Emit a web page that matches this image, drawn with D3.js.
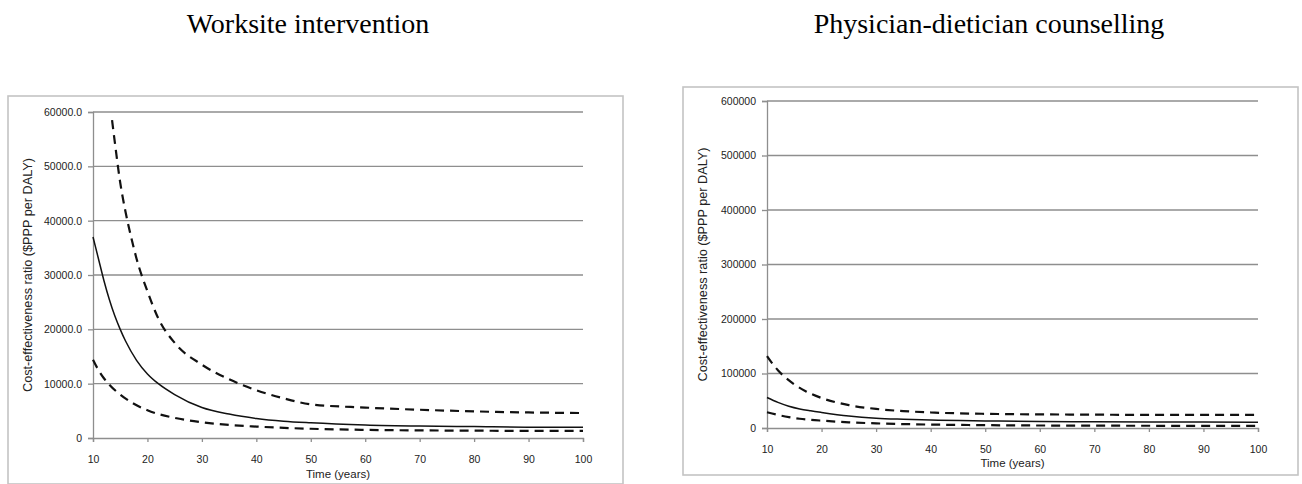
<!DOCTYPE html>
<html>
<head>
<meta charset="utf-8">
<title></title>
<style>
  body { margin: 0; background: #fff; }
  svg text { font-family: "Liberation Sans", Arial, sans-serif; fill: #222; }
  svg .title { font-family: "Liberation Serif", "Times New Roman", serif; font-size: 28px; fill: #000; }
  svg .frame { fill: none; stroke: #c4c4c4; stroke-width: 1.6; }
  svg .grid line { stroke: #8e8e8e; stroke-width: 1.3; }
  svg .axis path, svg .axis line { stroke: #8e8e8e; stroke-width: 1.3; }
  svg .axis text { font-size: 10.5px; fill: #222; }
  svg .mid { fill: none; stroke: #111; stroke-width: 1.5; }
  svg .bound { fill: none; stroke: #111; stroke-width: 2.2; stroke-dasharray: 9 6; }
</style>
</head>
<body>
<svg class="drawing"></svg>
<script src="https://cdn.jsdelivr.net/npm/d3@7"></script>
<script>
var w = 1302, h = 484;

var titles = ["Worksite intervention", "Physician-dietician counselling"];
var yTitle = "Cost-effectiveness ratio ($PPP per DALY)";
var xTitle = "Time (years)";
var xTicks = [10, 20, 30, 40, 50, 60, 70, 80, 90, 100];

// worksite (axis labelled 0 .. 60000.0)
var wsTicks = [0, 10000, 20000, 30000, 40000, 50000, 60000];
var wsMid = [[10, 37000], [11, 33000], [12, 29000], [13, 25500], [14, 22500], [15, 20000], [16, 17800],
    [18, 14300], [20, 11800], [22, 10000], [25, 8000], [30, 5600], [35, 4400], [40, 3600], [45, 3100],
    [50, 2800], [60, 2400], [70, 2200], [80, 2100], [90, 2000], [100, 2000]];
var wsHigh = [[13.5, 58500], [14, 54500], [15, 47000], [16, 41500], [17, 37000], [18, 33000], [20, 27000],
    [22, 22000], [25, 17500], [30, 13500], [35, 10800], [40, 8800], [45, 7300], [50, 6200], [60, 5600],
    [70, 5200], [80, 4900], [90, 4700], [100, 4600]];
var wsLow = [[10, 14400], [11, 12500], [12, 11000], [13, 9800], [15, 8000], [17, 6600], [20, 5100],
    [25, 3700], [30, 2900], [35, 2400], [40, 2100], [50, 1700], [60, 1500], [70, 1400], [80, 1350],
    [90, 1300], [100, 1300]];

// physician-dietician (axis labelled 0 .. 600000)
var pdTicks = [0, 100000, 200000, 300000, 400000, 500000, 600000];
var pdMid = [[10, 56000], [12, 47000], [14, 40000], [16, 35000], [18, 31500], [20, 28500], [25, 22000],
    [30, 18000], [35, 16000], [40, 14500], [50, 13000], [60, 12000], [70, 11500], [80, 11000],
    [90, 10800], [100, 10500]];
var pdHigh = [[10, 132000], [11, 118000], [12, 106000], [13, 96000], [15, 80000], [17, 68000], [20, 55000],
    [25, 42000], [30, 35000], [35, 31000], [40, 28500], [50, 26000], [60, 25000], [70, 24500],
    [80, 24000], [90, 24000], [100, 24000]];
var pdLow = [[10, 29000], [12, 24000], [14, 20000], [16, 17000], [18, 15000], [20, 13500], [25, 10500],
    [30, 8500], [35, 7200], [40, 6300], [50, 5200], [60, 4600], [70, 4300], [80, 4100], [90, 4000],
    [100, 4000]];

var svg = d3.select('.drawing').attr('width', w).attr('height', h);

function panel(p) {
    var x = d3.scaleLinear().domain([10, 100]).range([p.left, p.right]);
    var y = d3.scaleLinear().domain([0, p.ticks[p.ticks.length - 1]]).range([p.bottom, p.top]);
    var g = svg.append('g');

    g.append('rect').attr('class', 'frame')
        .attr('x', p.frame[0]).attr('y', p.frame[1])
        .attr('width', p.frame[2]).attr('height', p.frame[3]);

    svg.append('text').attr('class', 'title')
        .attr('x', p.titleX).attr('y', 33)
        .attr('text-anchor', 'middle')
        .text(p.title);

    g.append('g').attr('class', 'grid')
        .selectAll('line')
        .data(p.ticks.slice(1))
        .enter().append('line')
            .attr('x1', p.left).attr('x2', p.right)
            .attr('y1', d => y(d)).attr('y2', d => y(d));

    g.append('g').attr('class', 'axis')
        .attr('transform', 'translate(' + p.left + ',0)')
        .call(d3.axisLeft(y).tickValues(p.ticks).tickSize(5).tickPadding(6).tickFormat(p.fmt));

    g.append('g').attr('class', 'axis')
        .attr('transform', 'translate(0,' + p.bottom + ')')
        .call(d3.axisBottom(x).tickValues(xTicks).tickSize(4).tickSizeOuter(4).tickPadding(p.xPad));

    var line = d3.line()
        .x(d => x(d[0]))
        .y(d => y(d[1]))
        .curve(d3.curveMonotoneX);

    g.append('path').attr('class', 'bound').attr('d', line(p.low));
    g.append('path').attr('class', 'mid').attr('d', line(p.mid));
    g.append('path').attr('class', 'bound').attr('d', line(p.high));

    g.append('text')
        .attr('transform', 'translate(' + p.yTitleX + ',' + (p.top + p.bottom) / 2 + ') rotate(-90)')
        .attr('text-anchor', 'middle')
        .attr('dy', '0.35em')
        .attr('textLength', 234)
        .attr('lengthAdjust', 'spacingAndGlyphs')
        .style('font-size', '12px')
        .text(yTitle);

    g.append('text')
        .attr('x', (p.left + p.right) / 2)
        .attr('y', p.xTitleY)
        .attr('text-anchor', 'middle')
        .style('font-size', '11.5px')
        .text(xTitle);
}

panel({
    title: titles[0], titleX: 308,
    frame: [8, 96, 615, 388],
    left: 93, right: 583, top: 112, bottom: 438,
    ticks: wsTicks, fmt: d => d === 0 ? '0' : d3.format('.1f')(d),
    mid: wsMid, high: wsHigh, low: wsLow,
    yTitleX: 28, xTitleY: 478, xPad: 14
});

panel({
    title: titles[1], titleX: 989,
    frame: [683, 87, 615, 388],
    left: 767, right: 1258, top: 101, bottom: 428,
    ticks: pdTicks, fmt: d3.format('d'),
    mid: pdMid, high: pdHigh, low: pdLow,
    yTitleX: 703, xTitleY: 467, xPad: 14
});
</script>
</body>
</html>
